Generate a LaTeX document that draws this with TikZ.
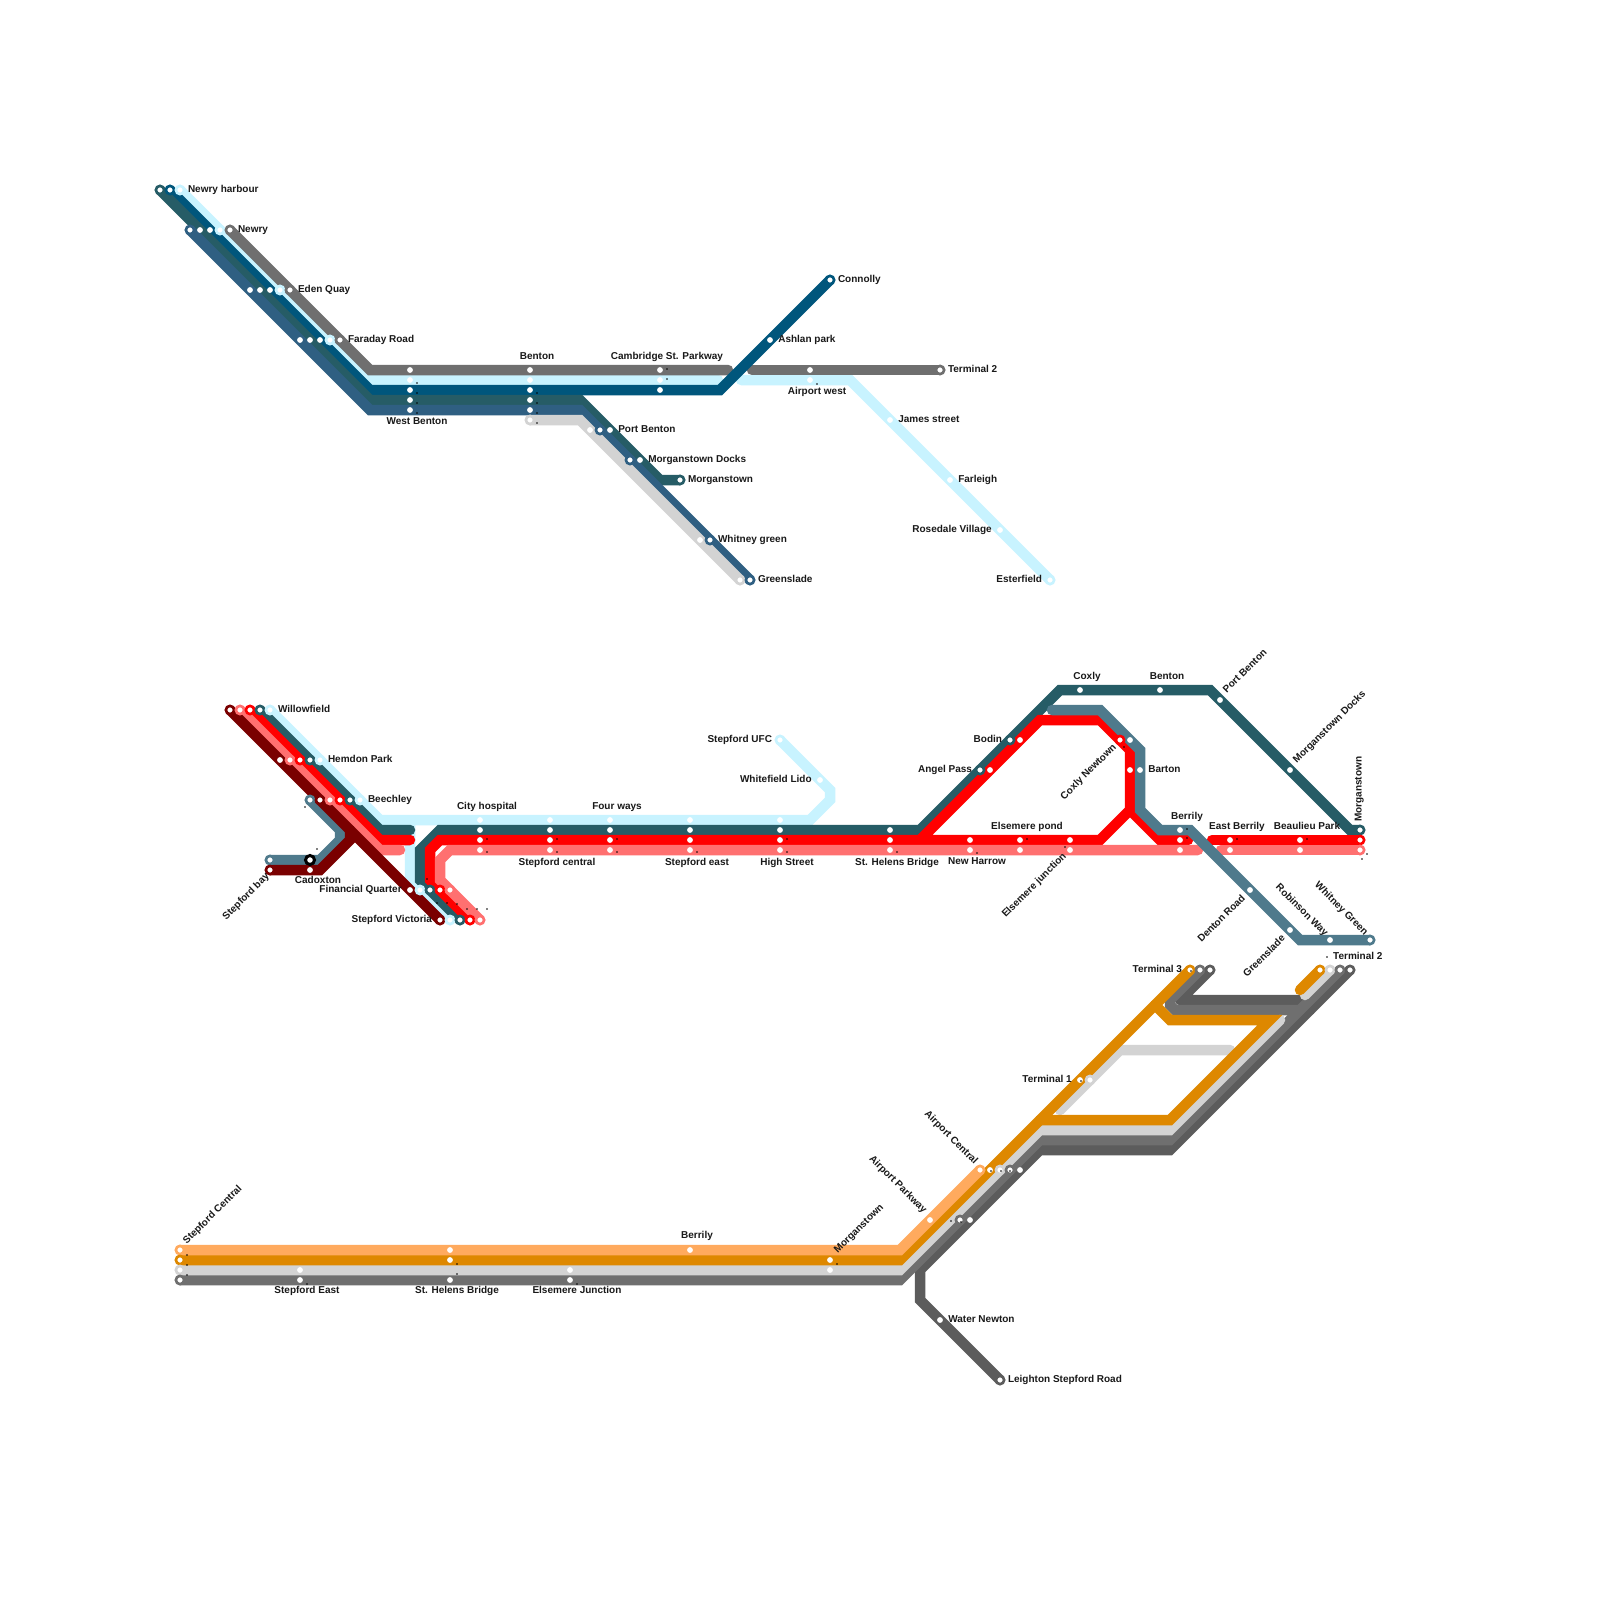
\documentclass[tikz,border=0pt]{standalone}
\usepackage{fontspec}
\setmainfont{Liberation Sans}
\usetikzlibrary{positioning,backgrounds}
\definecolor{cgrey}{HTML}{6F6F6F}
\definecolor{ccyan}{HTML}{C8F3FF}
\definecolor{cnavy}{HTML}{00567C}
\definecolor{cteal}{HTML}{265C66}
\definecolor{cblue}{HTML}{2F5F82}
\definecolor{cpale}{HTML}{D3D3D3}
\definecolor{cmaroon}{HTML}{7A0000}
\definecolor{cred}{HTML}{FF0000}
\definecolor{csalmon}{HTML}{FF7070}
\definecolor{csteel}{HTML}{4F7A8C}
\definecolor{corange}{HTML}{DE8800}
\definecolor{capricot}{HTML}{FFAA5E}
\definecolor{cslate}{HTML}{5C5C5C}
\tikzset{
  metro/.style={line width=10.5pt,line cap=round,line join=miter},
  stn/.style={circle,fill=white,inner sep=0pt,minimum size=5.8pt},
  term/.style={stn,draw=#1,line width=2.6pt,minimum size=8.2pt,outer sep=-1.3pt},
  blackstn/.style={stn,draw=black,line width=3pt,minimum size=9pt},
  lbl/.style={inner sep=0pt,font=\bfseries\fontsize{10pt}{10pt}\selectfont,text=black!90,
              text height=7.2pt,text depth=2.1pt},
}
\begin{document}
\begin{tikzpicture}[x=1pt,y=-1pt,node distance=5pt]
  \useasboundingbox (0,0) rectangle (1600,1600);
  % Upper map stations
  \node[term=cteal] (nh1) at (160,190) {};
  \node[term=cnavy] (nh2) at (170,190) {};
  \node[term=ccyan] (nh3) at (180,190) {};
  \node[term=cblue] (nw1) at (190,230) {};
  \node[stn]        (nw2) at (200,230) {};
  \node[stn]        (nw3) at (210,230) {};
  \node[term=ccyan] (nw4) at (220,230) {};
  \node[term=cgrey] (nw5) at (230,230) {};
  \node[stn]        (eq1) at (250,290) {};
  \node[stn]        (eq2) at (260,290) {};
  \node[stn]        (eq3) at (270,290) {};
  \node[term=ccyan] (eq4) at (280,290) {};
  \node[term=cgrey] (eq5) at (290,290) {};
  \node[stn]        (fr1) at (300,340) {};
  \node[stn]        (fr2) at (310,340) {};
  \node[stn]        (fr3) at (320,340) {};
  \node[term=ccyan] (fr4) at (330,340) {};
  \node[term=cgrey] (fr5) at (340,340) {};
  \node[stn] (wb1) at (410,370) {};
  \node[stn] (wb2) at (410,380) {};
  \node[stn] (wb3) at (410,390) {};
  \node[stn] (wb4) at (410,400) {};
  \node[stn] (wb5) at (410,410) {};
  \node[stn] (bn1) at (530,370) {};
  \node[stn] (bn2) at (530,380) {};
  \node[stn] (bn3) at (530,390) {};
  \node[stn] (bn4) at (530,400) {};
  \node[stn] (bn5) at (530,410) {};
  \node[term=cpale] (bn6) at (530,420) {};
  \node[stn] (cs1) at (660,370) {};
  \node[stn] (cs2) at (660,380) {};
  \node[stn] (cs3) at (660,390) {};
  \node[stn] (aw1) at (810,370) {};
  \node[stn] (aw2) at (810,380) {};
  \node[term=cgrey] (tt) at (940,370) {};
  \node[term=cnavy] (con) at (830,280) {};
  \node[stn] (ash) at (770,340) {};
  \node[stn] (jst) at (890,420) {};
  \node[stn] (far) at (950,480) {};
  \node[stn] (ros) at (1000,530) {};
  \node[term=ccyan] (est) at (1050,580) {};
  \node[stn]        (pb1) at (590,430) {};
  \node[term=cblue] (pb2) at (600,430) {};
  \node[stn] (pb3) at (610,430) {};
  \node[term=cblue] (md1) at (630,460) {};
  \node[stn] (md2) at (640,460) {};
  \node[term=cteal] (mt) at (680,480) {};
  \node[stn]        (wg1) at (700,540) {};
  \node[term=cblue] (wg2) at (710,540) {};
  \node[term=cpale] (gs1) at (740,580) {};
  \node[term=cblue] (gs2) at (750,580) {};
  % Upper map lines
  \begin{scope}[on background layer]
    \fill[white] (0,0) rectangle (1600,1600);
    \draw[metro,ccyan] (nh3.center) -- (370,380) -- (718,380);
    \draw[metro,ccyan] (741,380) -- (850,380) -- (est.center);
    \draw[metro,cgrey] (nw5.center) -- (370,370) -- (728,370);
    \draw[metro,cgrey] (752,370) -- (tt.center);
    \draw[metro,cnavy] (nh2.center) -- (370,390) -- (720,390) -- (con.center);
    \draw[metro,cteal] (nh1.center) -- (370,400) -- (580,400) -- (660,480) -- (mt.center);
    \draw[metro,cblue] (nw1.center) -- (370,410) -- (580,410) -- (gs2.center);
    \draw[metro,cpale] (bn6.center) -- (580,420) -- (gs1.center);
  \end{scope}
  % Upper map labels
  \node[lbl,right=of nh3] (lnh) {Newry harbour};
  \node[lbl,right=of nw5] (lnw) {Newry};
  \node[lbl,right=of eq5] (leq) {Eden Quay};
  \node[lbl,right=of fr5] (lfr) {Faraday Road};
  \node[lbl] (lwb) at (417,422) {West Benton};
  \node[lbl] (lbn) at (537,357) {Benton};
  \node[lbl] (lcs) at (667,357) {Cambridge St. Parkway};
  \node[lbl] (law) at (817,392) {Airport west};
  \node[lbl,right=of con] (lcon) {Connolly};
  \node[lbl,right=of ash] (lash) {Ashlan park};
  \node[lbl,right=of tt] (ltt) {Terminal 2};
  \node[lbl,right=of jst] (ljst) {James street};
  \node[lbl,right=of far] (lfar) {Farleigh};
  \node[lbl,left=of ros] (lros) {Rosedale Village};
  \node[lbl,left=of est] (lest) {Esterfield};
  \node[lbl,right=of pb3] (lpb) {Port Benton};
  \node[lbl,right=of md2] (lmd) {Morganstown Docks};
  \node[lbl,right=of mt] (lmt) {Morganstown};
  \node[lbl,right=of wg2] (lwg) {Whitney green};
  \node[lbl,right=of gs2] (lgs) {Greenslade};
  % Middle map stations
  \node[term=cmaroon] (wf1) at (230,710) {};
  \node[term=csalmon] (wf2) at (240,710) {};
  \node[term=cred]    (wf3) at (250,710) {};
  \node[term=cteal]   (wf4) at (260,710) {};
  \node[term=ccyan]   (wf5) at (270,710) {};
  \node[stn]          (hp1) at (280,760) {};
  \node[term=csalmon] (hp2) at (290,760) {};
  \node[term=cred]    (hp3) at (300,760) {};
  \node[term=cteal]   (hp4) at (310,760) {};
  \node[term=ccyan]   (hp5) at (320,760) {};
  \node[term=csteel]  (bc1) at (310,800) {};
  \node[term=cmaroon] (bc2) at (320,800) {};
  \node[term=csalmon] (bc3) at (330,800) {};
  \node[term=cred]    (bc4) at (340,800) {};
  \node[term=cteal]   (bc5) at (350,800) {};
  \node[term=ccyan]   (bc6) at (360,800) {};
  \node[term=csteel]  (sb1) at (270,860) {};
  \node[term=cmaroon] (sb2) at (270,870) {};
  \node[blackstn]     (cx1) at (310,860) {};
  \node[stn]          (cx2) at (310,870) {};
  \node[stn]          (fq1) at (410,890) {};
  \node[term=ccyan]   (fq2) at (420,890) {};
  \node[term=cteal]   (fq3) at (430,890) {};
  \node[term=cred]    (fq4) at (440,890) {};
  \node[term=csalmon] (fq5) at (450,890) {};
  \node[term=cmaroon] (sv1) at (440,920) {};
  \node[term=ccyan]   (sv2) at (450,920) {};
  \node[term=cteal]   (sv3) at (460,920) {};
  \node[term=cred]    (sv4) at (470,920) {};
  \node[term=csalmon] (sv5) at (480,920) {};
  \node[stn] (ch1) at (480,820) {};
  \node[stn] (ch2) at (480,830) {};
  \node[stn] (ch3) at (480,840) {};
  \node[stn] (ch4) at (480,850) {};
  \node[stn] (sc1) at (550,820) {};
  \node[stn] (sc2) at (550,830) {};
  \node[stn] (sc3) at (550,840) {};
  \node[stn] (sc4) at (550,850) {};
  \node[stn] (fw1) at (610,820) {};
  \node[stn] (fw2) at (610,830) {};
  \node[stn] (fw3) at (610,840) {};
  \node[stn] (fw4) at (610,850) {};
  \node[stn] (se1) at (690,820) {};
  \node[stn] (se2) at (690,830) {};
  \node[stn] (se3) at (690,840) {};
  \node[stn] (se4) at (690,850) {};
  \node[stn] (hs1) at (780,820) {};
  \node[stn] (hs2) at (780,830) {};
  \node[stn] (hs3) at (780,840) {};
  \node[stn] (hs4) at (780,850) {};
  \node[stn] (sh1) at (890,830) {};
  \node[stn] (sh2) at (890,840) {};
  \node[stn] (sh3) at (890,850) {};
  \node[term=ccyan] (ufc) at (780,740) {};
  \node[stn] (wl) at (820,780) {};
  \node[term=cteal] (ap1) at (980,770) {};
  \node[stn]        (ap2) at (990,770) {};
  \node[term=cteal] (bd1) at (1010,740) {};
  \node[stn]        (bd2) at (1020,740) {};
  \node[stn] (nh1b) at (970,840) {};
  \node[stn] (nh2b) at (970,850) {};
  \node[stn] (ep1) at (1020,840) {};
  \node[stn] (ep2) at (1020,850) {};
  \node[stn] (ej1) at (1070,840) {};
  \node[stn] (ej2) at (1070,850) {};
  \node[term=cred] (cn1) at (1120,740) {};
  \node[stn]       (cn2) at (1130,740) {};
  \node[stn] (ba1) at (1130,770) {};
  \node[stn] (ba2) at (1140,770) {};
  \node[stn] (cox) at (1080,690) {};
  \node[stn] (bnt) at (1160,690) {};
  \node[stn] (pbn) at (1220,700) {};
  \node[stn] (mdk) at (1290,770) {};
  \node[stn] (br1) at (1180,830) {};
  \node[stn] (br2) at (1180,840) {};
  \node[stn] (br3) at (1180,850) {};
  \node[stn] (eb1) at (1230,840) {};
  \node[stn] (eb2) at (1230,850) {};
  \node[stn] (bp1) at (1300,840) {};
  \node[stn] (bp2) at (1300,850) {};
  \node[term=cteal]   (ms1) at (1360,830) {};
  \node[term=cred]    (ms2) at (1360,840) {};
  \node[term=csalmon] (ms3) at (1360,850) {};
  \node[stn] (dr) at (1250,890) {};
  \node[stn] (gl) at (1290,930) {};
  \node[stn] (rw) at (1330,940) {};
  \node[term=csteel] (wgn) at (1370,940) {};
  % Middle map lines
  \begin{scope}[on background layer]
    \draw[metro,ccyan] (wf5.center) -- (380,820) -- (810,820) -- (830,800) -- (830,790) -- (ufc.center);
    \draw[metro,ccyan] (sv2.center) -- (410,880) -- (410,825);
    \draw[metro,cteal] (wf4.center) -- (380,830) -- (410,830);
    \draw[metro,cteal] (sv3.center) -- (420,880) -- (420,850) -- (440,830) -- (920,830)
      -- (1060,690) -- (1210,690) -- (1350,830) -- (ms1.center);
    \draw[metro,cred] (wf3.center) -- (380,840) -- (410,840);
    \draw[metro,cred] (sv4.center) -- (430,880) -- (430,850) -- (440,840) -- (1100,840)
      -- (1130,810) -- (1130,750) -- (1100,720) -- (1040,720) -- (920,840);
    \draw[metro,cred] (1130,810) -- (1160,840) -- (1188,840);
    \draw[metro,cred] (1212,840) -- (ms2.center);
    \draw[metro,csalmon] (wf2.center) -- (380,850) -- (400,850);
    \draw[metro,csalmon] (sv5.center) -- (440,880) -- (440,860) -- (450,850) -- (1198,850);
    \draw[metro,csalmon] (1221,850) -- (ms3.center);
    \draw[metro,csteel] (1052,710) -- (1100,710) -- (1140,750) -- (1140,810) -- (1160,830)
      -- (1190,830) -- (1300,940) -- (wgn.center);
    \draw[metro,csteel] (bc1.center) -- (340,830) -- (340,840) -- (320,860) -- (sb1.center);
    \draw[metro,cmaroon] (sb2.center) -- (320,870) -- (350,840) -- (350,830);
    \draw[metro,cmaroon] (wf1.center) -- (sv1.center);
  \end{scope}
  % Middle map labels
  \node[lbl,right=of wf5] (lwf) {Willowfield};
  \node[lbl,right=of hp5] (lhp) {Hemdon Park};
  \node[lbl,right=of bc6] (lbc) {Beechley};
  \node[lbl] (lcx) at (318,881) {Cadoxton};
  \node[lbl,rotate=45,anchor=east] (lsb) at (268,875) {Stepford bay};
  \node[lbl,left=of fq1] (lfq) {Financial Quarter};
  \node[lbl,left=of sv1] (lsv) {Stepford Victoria};
  \node[lbl] (lch) at (487,807) {City hospital};
  \node[lbl] (lsc) at (557,863) {Stepford central};
  \node[lbl] (lfw) at (617,807) {Four ways};
  \node[lbl] (lse) at (697,863) {Stepford east};
  \node[lbl] (lhs) at (787,863) {High Street};
  \node[lbl] (lsh) at (897,863) {St. Helens Bridge};
  \node[lbl,left=of ufc] (lufc) {Stepford UFC};
  \node[lbl,left=of wl] (lwl) {Whitefield Lido};
  \node[lbl,left=of ap1] (lap) {Angel Pass};
  \node[lbl,left=of bd1] (lbd) {Bodin};
  \node[lbl] (lnhb) at (977,862) {New Harrow};
  \node[lbl] (lep) at (1027,827) {Elsemere pond};
  \node[lbl,rotate=45,anchor=east] (lej) at (1065,855) {Elsemere junction};
  \node[lbl,rotate=45,anchor=east] (lcn) at (1115,746) {Coxly Newtown};
  \node[lbl,right=of ba2] (lba) {Barton};
  \node[lbl] (lcox) at (1087,677) {Coxly};
  \node[lbl] (lbnt) at (1167,677) {Benton};
  \node[lbl,rotate=45,anchor=west] (lpbn) at (1225,692) {Port Benton};
  \node[lbl,rotate=45,anchor=west] (lmdk) at (1295,762) {Morganstown Docks};
  \node[lbl,rotate=90,anchor=west] (lms) at (1359,822) {Morganstown};
  \node[lbl] (lbr) at (1187,817) {Berrily};
  \node[lbl] (leb) at (1237,827) {East Berrily};
  \node[lbl] (lbp) at (1307,827) {Beaulieu Park};
  \node[lbl,rotate=45,anchor=east] (ldr) at (1244,897) {Denton Road};
  \node[lbl,rotate=45,anchor=east] (lgl) at (1284,937) {Greenslade};
  \node[lbl,rotate=-45,anchor=west] (lrw) at (1277,886) {Robinson Way};
  \node[lbl,rotate=-45,anchor=west] (lwgn) at (1316,884) {Whitney Green};
  % Lower map stations
  \node[term=capricot] (sl1) at (180,1250) {};
  \node[term=corange]  (sl2) at (180,1260) {};
  \node[term=cpale]    (sl3) at (180,1270) {};
  \node[term=cgrey]    (sl4) at (180,1280) {};
  \node[stn] (sd1) at (300,1270) {};
  \node[stn] (sd2) at (300,1280) {};
  \node[stn] (hb1) at (450,1250) {};
  \node[stn] (hb2) at (450,1260) {};
  \node[stn] (hb3) at (450,1280) {};
  \node[stn] (jn1) at (570,1270) {};
  \node[stn] (jn2) at (570,1280) {};
  \node[stn] (ber) at (690,1250) {};
  \node[stn] (mo1) at (830,1260) {};
  \node[stn] (mo2) at (830,1270) {};
  \node[stn] (pk1) at (930,1220) {};
  \node[term=cgrey] (pk2) at (960,1220) {};
  \node[stn]        (pk3) at (970,1220) {};
  \node[term=capricot] (ac1) at (980,1170) {};
  \node[stn]           (ac2) at (990,1170) {};
  \node[term=cpale]    (ac3) at (1000,1170) {};
  \node[term=cgrey]    (ac4) at (1010,1170) {};
  \node[stn]           (ac5) at (1020,1170) {};
  \node[stn] (wn) at (940,1320) {};
  \node[term=cslate] (lsr) at (1000,1380) {};
  \node[stn] (to1) at (1080,1080) {};
  \node[term=cpale] (to2) at (1090,1080) {};
  \node[term=corange] (th1) at (1190,970) {};
  \node[term=cgrey]   (th2) at (1200,970) {};
  \node[term=cslate]  (th3) at (1210,970) {};
  \node[term=corange] (tw1) at (1320,970) {};
  \node[term=cpale]   (tw2) at (1330,970) {};
  \node[term=cgrey]   (tw3) at (1340,970) {};
  \node[term=cslate]  (tw4) at (1350,970) {};
  % Lower map lines
  \begin{scope}[on background layer]
    \draw[metro,cslate] (tw4.center) -- (1170,1150) -- (1040,1150) -- (920,1270) -- (920,1300) -- (lsr.center);
    \draw[metro,cslate,line join=round] (th3.center) -- (1180,1000) -- (1300,1000) -- (1310,1010);
    \draw[metro,cgrey] (sl4.center) -- (900,1280) -- (1040,1140) -- (1170,1140) -- (tw3.center);
    \draw[metro,cgrey] (th2.center) -- (1170,1000) -- (1170,1005) -- (1175,1010) -- (1300,1010);
    \draw[metro,cpale] (sl3.center) -- (900,1270) -- (1040,1130) -- (1170,1130) -- (1280,1020);
    \draw[metro,cpale] (tw2.center) -- (1305,995);
    \draw[metro,cpale] (1060,1110) -- (1120,1050) -- (1230,1050);
    \draw[metro,corange] (sl2.center) -- (900,1260) -- (th1.center);
    \draw[metro,corange] (1040,1120) -- (1170,1120) -- (1270,1020) -- (1170,1020) -- (1155,1005);
    \draw[metro,corange] (tw1.center) -- (1300,990);
    \draw[metro,capricot] (sl1.center) -- (900,1250) -- (ac1.center);
  \end{scope}
  % Lower map labels
  \node[lbl,rotate=45,anchor=west] (lsl) at (185,1243) {Stepford Central};
  \node[lbl] (lsd) at (307,1291) {Stepford East};
  \node[lbl] (lhb) at (457,1291) {St. Helens Bridge};
  \node[lbl] (ljn) at (577,1291) {Elsemere Junction};
  \node[lbl] (lber) at (697,1236) {Berrily};
  \node[lbl,rotate=45,anchor=west] (lmo) at (836,1252) {Morganstown};
  \node[lbl,rotate=-45,anchor=east] (lpk) at (925,1212) {Airport Parkway};
  \node[lbl,rotate=-45,anchor=east] (lac) at (976,1163) {Airport Central};
  \node[lbl,right=of wn] (lwn) {Water Newton};
  \node[lbl,right=of lsr] (llsr) {Leighton Stepford Road};
  \node[lbl,left=of to1] (lto) {Terminal 1};
  \node[lbl,left=of th1] (lth) {Terminal 3};
  \node[lbl,anchor=west] (ltw) at (1333,957) {Terminal 2};
  % Stray label dots
  \foreach \tx/\ty in {417/383,417/393,417/403,417/413,537/393,537/403,537/413,537/423,667/369,667/379,817/384,
    305/807,317/849,427/879,437/903,447/903,457/904,467/909,477/909,487/909,487/839,487/852,557/839,557/852,
    617/839,617/852,697/852,787/839,787/852,897/852,977/853,1027/839,1065/847,1124/747,1187/829,1187/838,
    1237/839,1307/839,1367/854,1362/859,1327/957,1191/971,1081/1081,991/1171,1001/1171,1010/1171,951/1221,
    961/1222,837/1264,187/1255,187/1265,187/1275,307/1284,457/1264,457/1274,577/1284}
    \fill[black] (\tx,\ty) circle (0.9);
\end{tikzpicture}
\end{document}
